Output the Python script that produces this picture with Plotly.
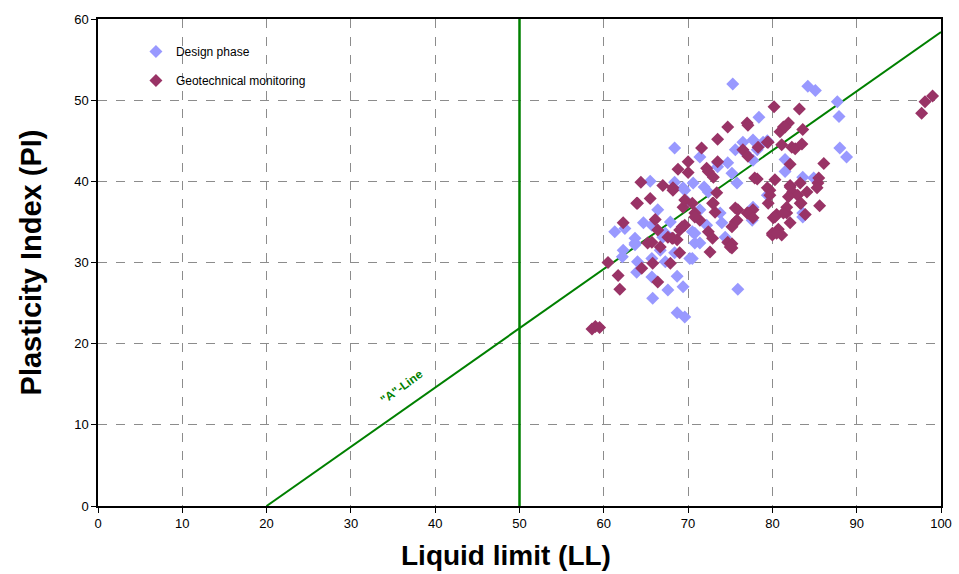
import plotly.graph_objects as go

# Plasticity chart: liquid limit (LL) vs plasticity index (PI)
design_ll = [75.3, 84.2, 85.1, 87.7, 87.9, 78.4, 88.0, 88.8, 68.4, 71.4, 73.5, 75.2, 76.8, 77.7,
             78.9, 76.5, 77.7, 79.4, 75.6, 78.2, 73.5, 74.7, 81.5, 81.5, 83.6, 84.9, 83.6, 83.6,
             65.5, 68.4, 69.4, 69.9, 70.6, 71.9, 72.4, 75.8, 79.4, 74.0, 74.4, 77.6, 77.7, 70.5,
             70.8, 71.4, 70.5, 75.9, 66.4, 61.3, 62.5, 64.7, 65.7, 67.3, 63.7, 66.7, 62.2, 62.3,
             64.0, 65.7, 67.3, 68.4, 70.2, 70.8, 63.9, 65.7, 67.6, 68.7, 69.4, 65.8, 68.7, 69.6,
             72.2, 71.4, 73.8, 67.9, 67.0, 63.7, 69.6, 63.7]
design_pi = [52.0, 51.7, 51.2, 49.8, 48.0, 47.9, 44.1, 43.0, 44.1, 43.0, 42.3, 41.0, 43.5, 42.6,
             44.8, 44.8, 45.1, 45.0, 43.9, 43.9, 41.8, 42.3, 41.2, 42.7, 40.5, 40.4, 36.1, 35.6,
             40.0, 39.9, 39.2, 37.5, 39.8, 39.3, 38.7, 39.8, 38.3, 34.9, 33.1, 35.2, 36.8, 33.8,
             32.4, 32.4, 30.5, 26.7, 36.5, 33.8, 34.2, 34.9, 34.6, 33.6, 32.4, 31.5, 30.7, 31.5,
             30.1, 30.5, 30.1, 31.2, 30.5, 33.6, 28.8, 28.2, 26.6, 28.3, 27.0, 25.6, 23.8, 23.3,
             34.6, 36.5, 36.1, 35.0, 33.1, 33.0, 38.9, 32.2]

geo_ll = [58.6, 59.0, 59.5, 60.5, 61.7, 61.9, 62.3, 63.9, 64.4, 65.5, 66.1, 66.4, 65.2, 66.7,
          65.8, 64.5, 67.9, 69.0, 68.1, 68.7, 69.0, 67.6, 69.6, 66.4, 67.0, 68.2, 68.8, 70.0,
          69.4, 69.6, 70.0, 71.6, 72.2, 72.4, 73.0, 73.5, 73.5, 74.7, 77.0, 77.1, 80.2, 83.2,
          81.9, 81.3, 80.9, 83.6, 79.4, 81.1, 82.3, 82.7, 83.5, 78.3, 79.5, 76.5, 77.1, 82.1,
          86.1, 78.2, 79.7, 77.9, 80.3, 79.4, 79.7, 82.1, 83.3, 82.4, 83.0, 84.1, 81.9, 83.3,
          85.6, 85.5, 85.4, 85.3, 80.5, 81.7, 83.9, 82.1, 80.1, 80.7, 80.0, 81.1, 83.4, 79.5,
          81.7, 73.4, 72.9, 70.5, 70.8, 71.4, 73.2, 75.9, 77.0, 77.7, 75.6, 75.2, 80.3, 81.3,
          72.4, 72.9, 74.7, 75.2, 75.2, 72.6, 75.0, 75.8, 75.6, 77.1, 77.7, 73.0, 70.8, 64.0,
          98.1, 99.0, 97.7, 82.1, 68.2, 65.7, 69.3, 68.2, 81.5, 80.0, 80.5]
geo_pi = [21.8, 22.1, 22.0, 30.0, 28.4, 26.7, 34.9, 37.3, 39.9, 37.9, 35.3, 34.0, 32.4, 31.9,
          29.9, 29.3, 29.9, 31.2, 33.0, 32.8, 34.0, 33.1, 34.6, 27.6, 39.5, 38.9, 41.5, 41.1,
          36.8, 37.7, 42.4, 44.1, 41.6, 41.2, 40.5, 42.4, 45.2, 46.7, 47.2, 46.9, 49.2, 48.9,
          47.2, 46.7, 46.1, 46.4, 44.8, 44.5, 44.2, 44.0, 44.6, 44.2, 44.8, 43.9, 43.1, 42.1,
          42.2, 40.3, 38.9, 40.4, 40.2, 39.2, 38.3, 39.5, 39.8, 38.7, 38.3, 38.7, 38.1, 37.3,
          37.0, 40.4, 39.8, 39.2, 35.9, 36.1, 35.9, 34.9, 35.5, 34.1, 33.4, 33.4, 37.3, 37.3,
          36.8, 38.6, 37.3, 37.3, 36.1, 35.2, 36.2, 36.5, 36.1, 36.5, 35.0, 34.4, 35.6, 36.1,
          33.8, 33.0, 32.5, 32.3, 31.8, 31.3, 31.9, 35.2, 36.7, 36.1, 35.5, 37.3, 35.6, 37.3,
          49.8, 50.5, 48.4, 39.3, 33.0, 32.5, 34.4, 39.2, 46.7, 33.6, 33.6]

# Casagrande "A"-line (PI = 0.73 (LL - 20)) end points and the LL = 50 divider
aline_ll = [20, 100]
aline_pi = [0, 58.4]
divider_ll = [50, 50]
divider_pi = [0, 60]

x_ticks = list(range(0, 101, 10))
y_ticks = list(range(0, 61, 10))

GREEN = "#008000"
font_family = "Liberation Sans, Arial, sans-serif"

fig = go.Figure()

fig.add_trace(go.Scatter(x=aline_ll, y=aline_pi, mode="lines",
                         line=dict(color=GREEN, width=2), showlegend=False, hoverinfo="skip"))
fig.add_trace(go.Scatter(x=divider_ll, y=divider_pi, mode="lines",
                         line=dict(color=GREEN, width=2.5), showlegend=False, hoverinfo="skip"))

fig.add_trace(go.Scatter(x=design_ll, y=design_pi, mode="markers", name="Design phase",
                         legendgroup="a",
                         marker=dict(symbol="diamond", size=10, color="#9999FF",
                                     line=dict(width=0))))
fig.add_trace(go.Scatter(x=geo_ll, y=geo_pi, mode="markers", name="Geotechnical monitoring",
                         legendgroup="b",
                         marker=dict(symbol="diamond", size=10, color="#993366",
                                     line=dict(width=0))))

fig.add_annotation(x=36.0, y=14.7, text='"A"-Line', showarrow=False, textangle=-36,
                   font=dict(family=font_family, size=12, color=GREEN, weight="bold"))

# x-axis title, sitting slightly left of the plot centre
fig.add_annotation(xref="paper", yref="paper", x=0.5, y=0, xshift=-14, yshift=-49,
                   xanchor="center", yanchor="middle", showarrow=False,
                   text="Liquid limit (LL)",
                   font=dict(family=font_family, size=28, color="black", weight="bold"))

axis_common = dict(
    showgrid=True, gridcolor="#8c8c8c", griddash="dash", gridwidth=1,
    showline=True, linecolor="black", linewidth=1.5, mirror=True,
    ticks="outside", ticklen=5, tickcolor="black", tickwidth=1,
    zeroline=False,
    tickfont=dict(family=font_family, size=13, color="black"),
)

fig.update_xaxes(range=[0, 100], tickvals=x_ticks, **axis_common)
fig.update_yaxes(range=[0, 60], tickvals=y_ticks,
                 title=dict(text="Plasticity Index (PI)", standoff=24,
                            font=dict(family=font_family, size=29, color="black", weight="bold")),
                 **axis_common)

fig.update_layout(
    width=959, height=574,
    margin=dict(l=98, r=18, t=19, b=68, autoexpand=False),
    plot_bgcolor="white", paper_bgcolor="white",
    legend=dict(x=0.045, y=0.963, xanchor="left", yanchor="top",
                bgcolor="rgba(0,0,0,0)", traceorder="grouped", tracegroupgap=10,
                itemwidth=30,
                font=dict(family=font_family, size=12, color="black")),
)

fig.write_html("out.html")
